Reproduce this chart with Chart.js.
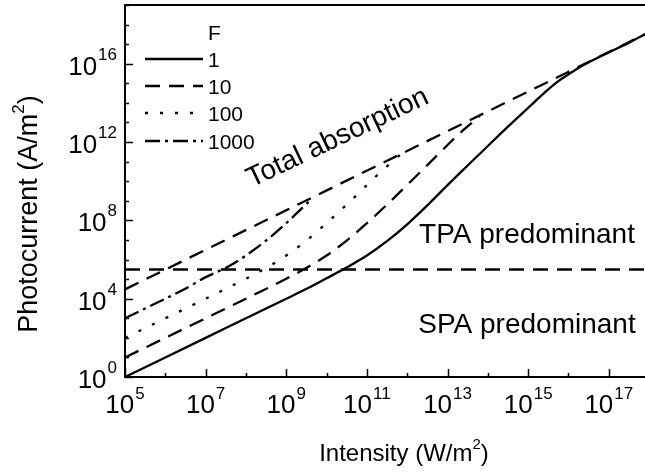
<!DOCTYPE html>
<html>
<head>
<meta charset="utf-8">
<script src="https://cdn.jsdelivr.net/npm/chart.js@4.4.0/dist/chart.umd.min.js"></script>
<style>
  html, body { margin: 0; padding: 0; background: #fff; }
  #wrap { width: 645px; height: 473px; }
</style>
</head>
<body>
<div id="wrap"><canvas id="chart" width="645" height="473"></canvas></div>
<script>
// values: intensity (W/m2) -> photocurrent (A/m2)
const f1Intensity = [1e5, 1e6, 1e7, 1e8, 1e9, 3.2e9, 1e10, 3.2e10, 1e11, 3.2e11, 1e12, 3.2e12, 1e13, 3.2e13, 1e14, 3.2e14, 1e15, 3.2e15, 5.6e15, 1e16, 1.8e16, 3.2e16, 1e17, 3.2e17, 7.9e17];
const f1Current   = [1, 10, 100, 1e3, 1e4, 3.2e4, 1.1e5, 4e5, 1.6e6, 8.9e6, 6.3e7, 6e8, 6.3e9, 6.5e10, 6.3e11, 6.3e12, 5.6e13, 5e14, 1.3e15, 2.9e15, 6.3e15, 1.2e16, 3.8e16, 1.2e17, 3.2e17];

const f10Intensity = [1e5, 1e6, 1e7, 1e8, 1e9, 3.2e9, 1e10, 3.2e10, 1e11, 3.2e11, 1e12, 3.2e12, 1e13, 2e13, 4e13, 6.3e13];
const f10Current   = [10, 100, 1e3, 1e4, 1.05e5, 3.8e5, 1.6e6, 9.5e6, 7.2e7, 6.6e8, 6.5e9, 6.8e10, 7.1e11, 2.8e12, 9.5e12, 2e13];

const f100Intensity = [1e5, 1e6, 1e7, 1e8, 3.2e8, 1e9, 3.2e9, 1e10, 3.2e10, 1e11, 2e11, 4e11, 7.1e11];
const f100Current   = [100, 1e3, 1e4, 1.05e5, 3.8e5, 1.6e6, 9.5e6, 7.2e7, 6.6e8, 6.3e9, 2.5e10, 8.9e10, 2.5e11];

const f1000Intensity = [1e5, 1e6, 3.2e6, 1e7, 3.2e7, 1e8, 3.2e8, 1e9, 2e9, 4e9];
const f1000Current   = [1e3, 1e4, 3.3e4, 1.26e5, 3.8e5, 1.6e6, 9.5e6, 7.2e7, 2.8e8, 1.1e9];

// total absorption limit and SPA/TPA boundary
const totalIntensity = [1e5, 7.9e17];
const totalCurrent   = [3e4, 3.2e17];
const boundaryIntensity = [1e5, 7.9e17];
const boundaryCurrent   = [3.1e5, 3.1e5];

const legendTitle = 'F';
const legendLabels = ['1', '10', '100', '1000'];

const xTickExps = [5, 6, 7, 8, 9, 10, 11, 12, 13, 14, 15, 16, 17];
const xLabelExps = [5, 7, 9, 11, 13, 15, 17];
const yTickExps = [0, 1, 2, 3, 4, 5, 6, 7, 8, 9, 10, 11, 12, 13, 14, 15, 16, 17, 18, 19];
const yLabelExps = [0, 4, 8, 12, 16];

const FONT = 'Arial, "Liberation Sans", sans-serif';

function pairs(xs, ys) {
    return xs.map((v, i) => ({ x: v, y: ys[i] }));
}

const dashStyles = [[], [15, 9], [3, 12], [15, 5, 3, 5]];

function series(xs, ys, dash) {
    return {
        data: pairs(xs, ys),
        borderColor: '#000',
        borderWidth: 2.3,
        borderDash: dash,
        pointRadius: 0,
        fill: false,
        cubicInterpolationMode: 'monotone'
    };
}

// draws "10" with a raised exponent
function drawPower(ctx, x, y, exp, size, supSize, raise, align) {
    ctx.font = size + 'px ' + FONT;
    const wBase = ctx.measureText('10').width;
    ctx.font = supSize + 'px ' + FONT;
    const wSup = ctx.measureText(String(exp)).width;
    const total = wBase + wSup + 1;
    const x0 = align === 'right' ? x - total : x - total / 2;
    ctx.textAlign = 'left';
    ctx.textBaseline = 'alphabetic';
    ctx.font = size + 'px ' + FONT;
    ctx.fillText('10', x0, y);
    ctx.font = supSize + 'px ' + FONT;
    ctx.fillText(String(exp), x0 + wBase + 1, y - raise);
}

const framePlugin = {
    id: 'frame',
    afterDatasetsDraw(chart) {
        const { ctx, chartArea: a, scales: { x, y } } = chart;
        ctx.save();
        ctx.strokeStyle = '#000';
        ctx.fillStyle = '#000';
        ctx.lineWidth = 2;
        ctx.setLineDash([]);

        // frame: top, left, bottom
        ctx.beginPath();
        ctx.moveTo(a.right, a.top);
        ctx.lineTo(a.left, a.top);
        ctx.lineTo(a.left, a.bottom);
        ctx.lineTo(a.right, a.bottom);
        ctx.stroke();

        // inward ticks
        ctx.lineWidth = 1.5;
        ctx.beginPath();
        xTickExps.forEach(e => {
            const px = Math.round(x.getPixelForValue(Math.pow(10, e))) + 0.5;
            const len = xLabelExps.includes(e) ? 8 : 4;
            ctx.moveTo(px, a.bottom);
            ctx.lineTo(px, a.bottom - len);
        });
        yTickExps.forEach(e => {
            const py = Math.round(y.getPixelForValue(Math.pow(10, e))) + 0.5;
            const len = yLabelExps.includes(e) ? 8 : 4;
            ctx.moveTo(a.left, py);
            ctx.lineTo(a.left + len, py);
        });
        ctx.stroke();

        // tick labels
        xLabelExps.forEach(e => {
            drawPower(ctx, x.getPixelForValue(Math.pow(10, e)), a.bottom + 36, e, 26, 17, 14, 'center');
        });
        yLabelExps.forEach(e => {
            drawPower(ctx, a.left - 8, y.getPixelForValue(Math.pow(10, e)) + 11, e, 26, 17, 15, 'right');
        });

        // axis titles
        ctx.textAlign = 'left';
        ctx.textBaseline = 'alphabetic';
        ctx.font = '24px ' + FONT;
        const xt = 'Intensity (W/m';
        const xw = ctx.measureText(xt).width;
        ctx.font = '15px ' + FONT;
        const x2 = ctx.measureText('2').width;
        ctx.font = '24px ' + FONT;
        let sx = 404 - (xw + x2 + ctx.measureText(')').width) / 2;
        ctx.fillText(xt, sx, 461);
        ctx.font = '15px ' + FONT;
        ctx.fillText('2', sx + xw, 449);
        ctx.font = '24px ' + FONT;
        ctx.fillText(')', sx + xw + x2, 461);

        ctx.save();
        ctx.translate(37, 214);
        ctx.rotate(-Math.PI / 2);
        ctx.font = '27px ' + FONT;
        const yt = 'Photocurrent (A/m';
        const yw = ctx.measureText(yt).width;
        ctx.font = '17px ' + FONT;
        const y2 = ctx.measureText('2').width;
        ctx.font = '27px ' + FONT;
        let sy = -(yw + y2 + ctx.measureText(')').width) / 2;
        ctx.fillText(yt, sy, 0);
        ctx.font = '17px ' + FONT;
        ctx.fillText('2', sy + yw, -13);
        ctx.font = '27px ' + FONT;
        ctx.fillText(')', sy + yw + y2, 0);
        ctx.restore();

        // legend
        ctx.font = '21px ' + FONT;
        ctx.fillText(legendTitle, 208, 40);
        const rowY = [59, 86, 113, 141];
        legendLabels.forEach((lab, i) => {
            ctx.beginPath();
            ctx.lineWidth = 2.3;
            ctx.setLineDash(dashStyles[i]);
            ctx.moveTo(145, rowY[i]);
            ctx.lineTo(203, rowY[i]);
            ctx.stroke();
            ctx.setLineDash([]);
            ctx.fillText(lab, 208, rowY[i] + 8);
        });

        // region annotations
        ctx.font = '28px ' + FONT;
        ctx.textAlign = 'center';
        ctx.fillText('TPA predominant', 527, 243);
        ctx.fillText('SPA predominant', 527, 333);
        ctx.save();
        ctx.translate(341, 145);
        ctx.rotate(-25.5 * Math.PI / 180);
        ctx.fillText('Total absorption', 0, 0);
        ctx.restore();

        ctx.restore();
    }
};

const ctx = document.getElementById('chart').getContext('2d');
new Chart(ctx, {
    type: 'line',
    data: {
        datasets: [
            series(boundaryIntensity, boundaryCurrent, dashStyles[1]),
            series(totalIntensity, totalCurrent, dashStyles[1]),
            series(f1Intensity, f1Current, dashStyles[0]),
            series(f10Intensity, f10Current, dashStyles[1]),
            series(f100Intensity, f100Current, dashStyles[2]),
            series(f1000Intensity, f1000Current, dashStyles[3])
        ]
    },
    options: {
        responsive: false,
        animation: false,
        layout: { padding: { left: 125, top: 5, right: 0, bottom: 96 } },
        plugins: { legend: { display: false }, tooltip: { enabled: false } },
        scales: {
            x: { type: 'logarithmic', min: 1e5, max: 7.9e17, display: false },
            y: { type: 'logarithmic', min: 1, max: 1e19, display: false }
        }
    },
    plugins: [framePlugin]
});
</script>
</body>
</html>
